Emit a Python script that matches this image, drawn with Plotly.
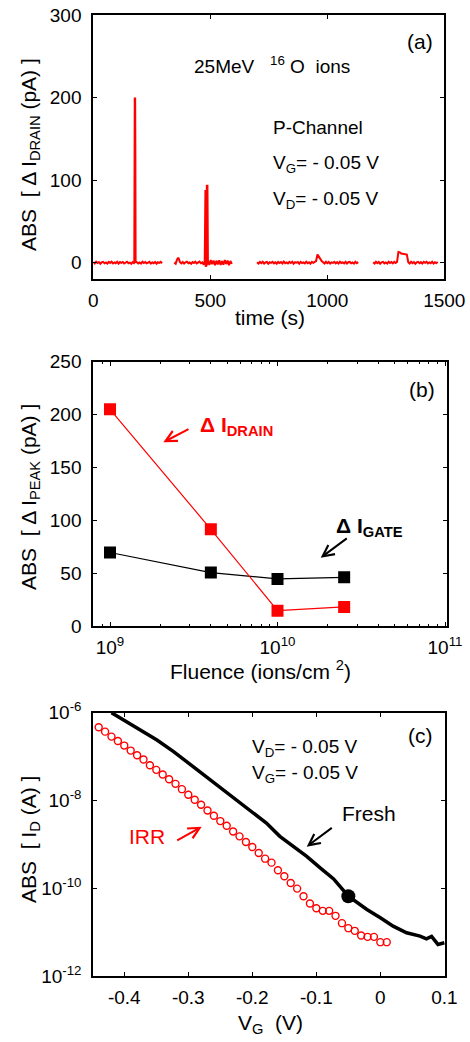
import numpy as np
import plotly.graph_objects as go

W, H = 470, 1042
FONT = "Arial, Liberation Sans, sans-serif"
RED = "#ff0000"
NB = "\u00a0"

# ---------------- (a) drain current transient ----------------
SAMPLE_DT = 6.0  # s between baseline samples

seg1_start = 0.0
seg1_vals = [0.5, -1.0, 1.2, -0.4, 0.8, -1.3, 0.3, 1.0, -0.8, 0.2,
             -1.1, 0.9, -0.3, 1.3, -0.9, 0.4, -0.6, 1.1, -1.2, 0.7,
             -0.2, 0.9, -1.0, 0.5, 1.2, -0.7, 0.1, -1.3, 0.8, -0.5,
             1.0, 0.6, -0.9, 0.3, -1.1, 1.2, -0.4, 0.7, -0.8, 0.2,
             1.1, -1.0, 0.4, -0.6, 0.9, -1.2, 0.5, -0.3, 1.0, -0.7]

seg2_start = 346.0
seg2_vals = [0.3, -1.2, 4.0, 6.0, 1.0, -0.8, 0.9, -1.1, 0.4, 1.2,
             -0.6, 0.2, -1.3, 0.8, -0.4, 1.1, -0.9, 0.5, 1.3, -0.7,
             0.3, -2.5, 2.8, -3.0, 2.2, -2.8, 3.1, -1.9, 2.6, -3.2,
             2.4, -2.0, 3.0, -2.7, 1.8, -2.4, 3.2, -1.6, 2.5, -2.9,
             2.0, -1.5]

seg3_start = 700.0
seg3_vals = [0.6, -1.1, 0.9, -0.5, 1.2, -1.0, 0.3, 0.8, -1.3, 0.5,
             -0.2, 1.1, -0.8, 0.4, -1.2, 1.0, -0.3, 0.7, -0.9, 1.3,
             -0.6, 0.2, -1.0, 0.9, -0.4, 1.1, -1.2, 0.6, -0.1, 0.8,
             -1.1, 1.0, -0.5, 0.3, -0.9, 1.2, -0.7, 0.5, -1.3, 0.9,
             -0.2, 0.7, 2.0, 10.0, 7.0, 4.0, 2.0, 0.5, -1.0, 1.1,
             -0.6, 0.8, -1.2, 0.4, -0.3, 1.0, -0.9, 0.6, -1.1, 1.2,
             -0.4, 0.3, -0.8, 1.0, -1.0, 0.5, 0.9, -0.7, 0.2, -1.2,
             1.1, -0.5, 0.7]

seg4_start = 1196.0
seg4_vals = [0.4, -1.0, 1.1, -0.6, 0.8, -1.2, 0.5, 1.0, -0.9, 0.2,
             -1.1, 1.2, -0.4, 0.7, -0.8, 1.0, -0.3, 0.9, 13.0, 12.5,
             11.0, 10.5, 10.0, 10.0, 9.8, 0.5, -1.0, 1.2, -0.5, 0.8,
             -1.3, 0.3, 1.0, -0.7, 0.6, -1.1, 0.9, -0.2, 1.1, -0.9,
             0.4, -0.6, 1.2, -1.0, 0.5, -0.4, 0.8]

spike1_t = [176, 177, 178, 179, 180]
spike1_v = [0, 200, 200, 127, 0]
spike2_t = [477, 479, 480, 481, 484, 486, 487, 489]
spike2_v = [0, 88, 88, -5, 0, 93, 93, 0]

# ---------------- (b) peak current vs fluence ----------------
fluence = [1e9, 4e9, 1e10, 2.5e10]
drain_peak = [205, 91.5, 14.5, 18]
gate_peak = [69.5, 50.5, 44.5, 46]

# ---------------- (c) transfer characteristics ----------------
vg_irr = [-0.45, -0.44, -0.43, -0.42, -0.41, -0.40, -0.39, -0.38, -0.37, -0.36,
          -0.35, -0.34, -0.33, -0.32, -0.31, -0.30, -0.29, -0.28, -0.27, -0.26,
          -0.25, -0.24, -0.23, -0.22, -0.21, -0.20, -0.19, -0.18, -0.17, -0.16,
          -0.15, -0.14, -0.13, -0.12, -0.11, -0.10, -0.09, -0.08, -0.07, -0.06,
          -0.05, -0.04, -0.03, -0.02, -0.01, 0.00, 0.01]
id_irr = [6.0e-7, 4.65e-7, 3.7e-7, 2.85e-7, 2.27e-7, 1.78e-7, 1.37e-7, 1.07e-7, 8.55e-8, 6.35e-8,
          4.98e-8, 3.9e-8, 3.05e-8, 2.39e-8, 1.81e-8, 1.35e-8, 1.04e-8, 7.98e-9, 5.93e-9, 4.49e-9,
          3.39e-9, 2.65e-9, 1.97e-9, 1.52e-9, 1.13e-9, 8.69e-10, 6.35e-10, 4.72e-10, 3.83e-10, 2.56e-10,
          1.87e-10, 1.32e-10, 9.8e-11, 6.58e-11, 4.49e-11, 3.51e-11, 3.05e-11, 3.05e-11, 2.35e-11, 1.6e-11,
          1.23e-11, 1.07e-11, 8.4e-12, 7.8e-12, 7.8e-12, 5.9e-12, 5.9e-12]

vg_fresh = [-0.42, -0.396, -0.370, -0.349, -0.323, -0.303, -0.282, -0.261, -0.240, -0.219,
            -0.198, -0.178, -0.157, -0.136, -0.115, -0.094, -0.073, -0.050, -0.021, 0.000,
            0.020, 0.041, 0.062, 0.072, 0.080, 0.090, 0.100]
id_fresh = [1.0e-6, 6.24e-7, 3.7e-7, 2.39e-7, 1.3e-7, 7.69e-8, 4.56e-8, 2.7e-8, 1.47e-8, 8.69e-9,
            5.15e-9, 3.05e-9, 1.52e-9, 9.0e-10, 5.33e-10, 2.9e-10, 1.63e-10, 6.58e-11, 3.27e-11, 2.12e-11,
            1.37e-11, 9.66e-12, 8.1e-12, 7.05e-12, 7.98e-12, 5.25e-12, 5.73e-12]

bias_vg = [-0.05]
bias_id = [6.58e-11]


def px(x):
    return x / W


def py(y):
    return 1 - y / H


fig = go.Figure()

# (a) traces
for start, vals in [(seg1_start, seg1_vals), (seg2_start, seg2_vals),
                    (seg3_start, seg3_vals), (seg4_start, seg4_vals)]:
    t = start + SAMPLE_DT * np.arange(len(vals))
    fig.add_trace(go.Scatter(x=t, y=vals, mode="lines", line=dict(color=RED, width=2.0),
                             xaxis="x", yaxis="y", showlegend=False))
for st, sv in [(spike1_t, spike1_v), (spike2_t, spike2_v)]:
    fig.add_trace(go.Scatter(x=st, y=sv, mode="lines", line=dict(color=RED, width=2.4),
                             xaxis="x", yaxis="y", showlegend=False))

# (b) traces
fig.add_trace(go.Scatter(x=fluence, y=gate_peak, mode="lines+markers",
                         line=dict(color="black", width=1.2),
                         marker=dict(symbol="square", size=12, color="black"),
                         xaxis="x2", yaxis="y2", showlegend=False))
fig.add_trace(go.Scatter(x=fluence, y=drain_peak, mode="lines+markers",
                         line=dict(color=RED, width=1.2),
                         marker=dict(symbol="square", size=12, color=RED),
                         xaxis="x2", yaxis="y2", showlegend=False))

# (c) traces
fig.add_trace(go.Scatter(x=vg_fresh, y=id_fresh, mode="lines",
                         line=dict(color="black", width=3.5),
                         xaxis="x3", yaxis="y3", showlegend=False))
fig.add_trace(go.Scatter(x=vg_irr, y=id_irr, mode="markers",
                         marker=dict(symbol="circle-open", size=7, color=RED,
                                     line=dict(width=1.4, color=RED)),
                         xaxis="x3", yaxis="y3", showlegend=False, cliponaxis=False))
fig.add_trace(go.Scatter(x=bias_vg, y=bias_id, mode="markers",
                         marker=dict(symbol="circle", size=14, color="black"),
                         xaxis="x3", yaxis="y3", showlegend=False))

TICK = 19
tick_font = dict(family=FONT, size=TICK, color="black")
common = dict(showline=True, linewidth=2, linecolor="black", mirror="ticks",
              ticks="inside", ticklen=4, tickwidth=1.2, tickcolor="black",
              showgrid=False, zeroline=False, tickfont=tick_font, automargin=False)

fig.update_layout(
    template="none",
    width=W, height=H,
    margin=dict(l=0, r=0, t=0, b=0, pad=0),
    paper_bgcolor="white", plot_bgcolor="white",
    font=dict(family=FONT, size=TICK, color="black"),
    xaxis=dict(domain=[px(93.3), px(444.3)], anchor="y", range=[0, 1500],
               tickvals=[0, 500, 1000, 1500], ticklabelstandoff=3, **common),
    yaxis=dict(domain=[py(278.7), py(15)], anchor="x", range=[-19.4, 300],
               tickvals=[0, 100, 200, 300], ticklabelstandoff=6, **common),
    xaxis2=dict(domain=[px(93.3), px(446.7)], anchor="y2", type="log",
                range=[8.9003, 11.0101],
                tickvals=[1e9, 1e10, 1e11],
                ticktext=["10<sup>9</sup>", "10<sup>10</sup>", "10<sup>11</sup>"],
                minor=dict(ticks="inside", ticklen=2.5, tickwidth=1, tickcolor="black",
                           dtick="D1", showgrid=False),
                ticklabelstandoff=3, **common),
    yaxis2=dict(domain=[py(626), py(361.7)], anchor="x2", range=[0, 250],
                tickvals=[0, 50, 100, 150, 200, 250], ticklabelstandoff=6, **common),
    xaxis3=dict(domain=[px(93.3), px(445)], anchor="y3", range=[-0.4484, 0.101],
                tickvals=[-0.4, -0.3, -0.2, -0.1, 0, 0.1],
                ticktext=["-0.4", "-0.3", "-0.2", "-0.1", "0", "0.1"],
                ticklabelstandoff=3, **common),
    yaxis3=dict(domain=[py(976), py(712.7)], anchor="x3", type="log", range=[-12, -6],
                tickvals=[1e-12, 1e-10, 1e-8, 1e-6],
                ticktext=["10<sup>-12</sup>", "10<sup>-10</sup>", "10<sup>-8</sup>", "10<sup>-6</sup>"],
                ticklabelstandoff=6, **common),
)


def label(text, x, y, xanchor="left", color="black", size=19, angle=0):
    fig.add_annotation(text=text, xref="paper", yref="paper", x=px(x), y=py(y),
                       xanchor=xanchor, yanchor="middle", showarrow=False,
                       textangle=angle, font=dict(family=FONT, size=size, color=color))


def arrow(x_head, y_head, x_tail, y_tail, color):
    fig.add_annotation(text="", xref="paper", yref="paper", x=px(x_head), y=py(y_head),
                       ax=x_tail - x_head, ay=y_tail - y_head, showarrow=True,
                       arrowhead=5, arrowsize=1.1, arrowwidth=2, arrowcolor=color,
                       standoff=0)


PANEL = 21
TITLE = 21

# (a) labels
label("(a)", 420, 41.7, xanchor="center", size=PANEL)
label("25MeV   <sup>16</sup> O  ions", 191.7, 65)
label("P-Channel", 271, 127.7)
label("V<sub>G</sub>= - 0.05 V", 271, 164)
label("V<sub>D</sub>= - 0.05 V", 271, 199.5)
label("time (s)", 270, 317.7, xanchor="center", size=TITLE)
label(f"ABS{NB} [ Δ I<sub>DRAIN</sub> (pA) ]", 30, 155, xanchor="center", angle=-90, size=TITLE)

# (b) labels
label("(b)", 421.7, 389, xanchor="center", size=PANEL)
label("<b>Δ I<sub>DRAIN</sub></b>", 198, 426, color=RED, size=21)
arrow(163.3, 442.3, 190, 428.3, RED)
label("<b>Δ I<sub>GATE</sub></b>", 334, 527, size=21)
arrow(320.7, 557.7, 348.3, 537.3, "black")
label("Fluence (ions/cm <sup>2</sup>)", 260, 669.5, xanchor="center", size=TITLE)
label(f"ABS{NB} [ Δ I<sub>PEAK</sub> (pA) ]", 30, 497, xanchor="center", angle=-90, size=TITLE)

# (c) labels
label("(c)", 420, 735, xanchor="center", size=PANEL)
label("V<sub>D</sub>= - 0.05 V", 250, 747.5)
label("V<sub>G</sub>= - 0.05 V", 250, 774)
label("Fresh", 340, 813.3, size=21)
arrow(306.7, 846.7, 333.3, 826.7, "black")
label("IRR", 126.7, 836.7, color=RED, size=21)
arrow(201.7, 826.7, 175.7, 841.3, RED)
label("V<sub>G</sub>  (V)", 270, 1024, xanchor="center", size=TITLE)
label(f"ABS{NB} [ I<sub>D</sub> (A) ]", 30, 840, xanchor="center", angle=-90, size=TITLE)

fig.write_html("out.html")
